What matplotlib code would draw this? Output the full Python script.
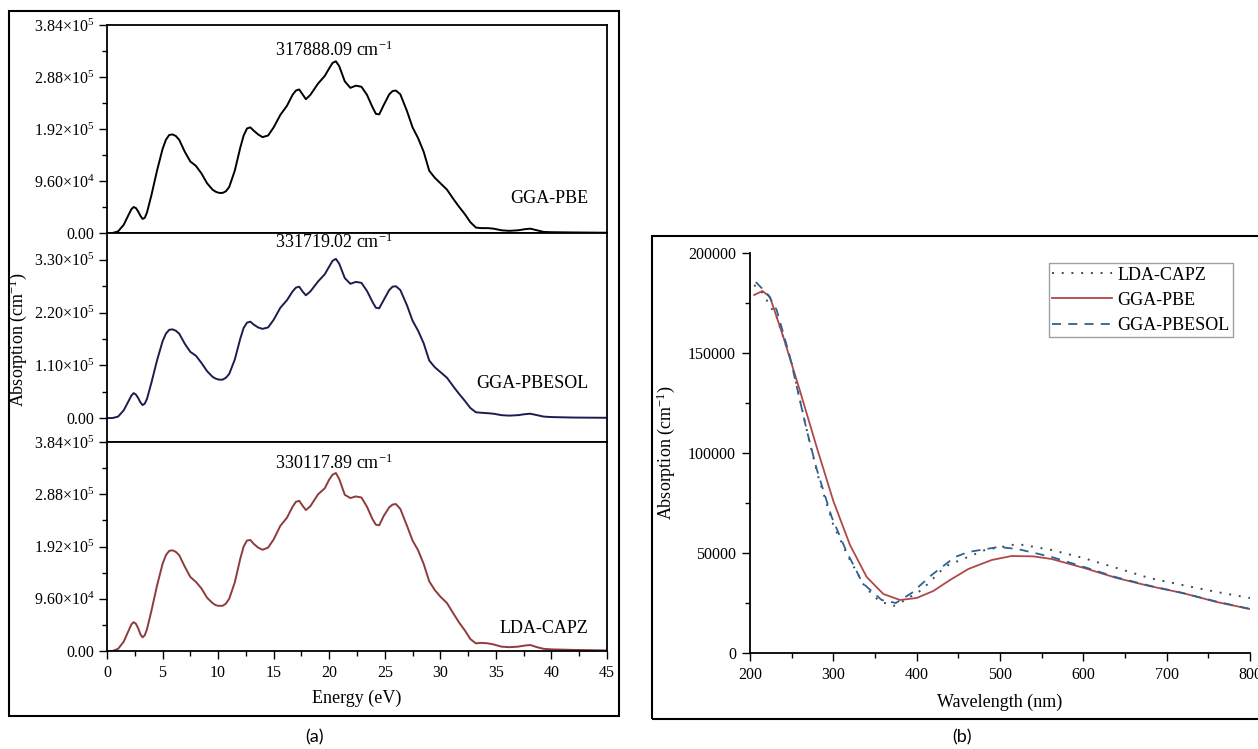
import matplotlib
matplotlib.use("Agg")
import matplotlib.pyplot as plt
from matplotlib.patches import Rectangle
from matplotlib.ticker import FixedLocator

plt.rcParams['font.family'] = ['Liberation Serif', 'DejaVu Serif']
plt.rcParams['mathtext.fontset'] = 'custom'
plt.rcParams['mathtext.rm'] = 'Liberation Serif'
plt.rcParams['mathtext.it'] = 'Liberation Serif:italic'
plt.rcParams['mathtext.bf'] = 'Liberation Serif:bold'

# ---- panel (a): absorption vs energy (values in 1e5 cm^-1) ----
energy = [0, 0.5, 1.0, 1.5, 2.0, 2.2, 2.4, 2.6, 2.8, 3.0,
          3.2, 3.4, 3.6, 4.0, 4.5, 5.0, 5.3, 5.6, 5.9, 6.2,
          6.5, 7.0, 7.5, 8.0, 8.5, 9.0, 9.5, 9.8, 10.1, 10.4,
          10.7, 11.0, 11.5, 12.0, 12.3, 12.6, 12.9, 13.2, 13.6, 14.0,
          14.5, 15.0, 15.6, 16.2, 16.7, 17.0, 17.3, 17.6, 17.9, 18.3,
          19.0, 19.6, 20.0, 20.3, 20.6, 20.9, 21.4, 21.9, 22.4, 22.9,
          23.4, 23.9, 24.2, 24.5, 24.9, 25.4, 25.7, 26.0, 26.4, 27.0,
          27.5, 28.0, 28.5, 29.0, 29.5, 30.0, 30.6, 31.2, 31.7, 32.2,
          32.7, 33.2, 33.7, 34.3, 34.8, 35.5, 36.2, 37.0, 37.6, 38.1,
          38.7, 39.3, 40.0, 42.0, 45.0]

gga_pbe = [0, 0.0, 0.03, 0.15, 0.36, 0.44, 0.48, 0.46, 0.40, 0.32,
           0.26, 0.28, 0.38, 0.70, 1.15, 1.55, 1.72, 1.81, 1.82, 1.79,
           1.72, 1.50, 1.32, 1.24, 1.10, 0.92, 0.80, 0.76, 0.74, 0.74,
           0.77, 0.85, 1.15, 1.58, 1.80, 1.93, 1.95, 1.89, 1.82, 1.77,
           1.80, 1.95, 2.18, 2.35, 2.55, 2.63, 2.65, 2.56, 2.47, 2.55,
           2.76, 2.90, 3.04, 3.14, 3.17, 3.08, 2.80, 2.68, 2.72, 2.70,
           2.55, 2.32, 2.20, 2.19, 2.36, 2.56, 2.62, 2.63, 2.56, 2.25,
           1.95, 1.75, 1.50, 1.15, 1.02, 0.92, 0.80, 0.62, 0.48, 0.35,
           0.20, 0.10, 0.09, 0.09, 0.08, 0.05, 0.04, 0.05, 0.07, 0.08,
           0.05, 0.02, 0.015, 0.01, 0.005]

gga_pbesol = [0, 0.0, 0.03, 0.16, 0.38, 0.47, 0.52, 0.49, 0.42, 0.33,
              0.27, 0.30, 0.40, 0.74, 1.20, 1.60, 1.76, 1.84, 1.85, 1.82,
              1.76, 1.55, 1.38, 1.30, 1.15, 0.98, 0.86, 0.82, 0.80, 0.80,
              0.84, 0.92, 1.22, 1.66, 1.88, 1.99, 2.01, 1.95, 1.89, 1.86,
              1.89, 2.05, 2.30, 2.46, 2.64, 2.72, 2.74, 2.64, 2.56, 2.64,
              2.85, 3.00, 3.16, 3.28, 3.32, 3.22, 2.92, 2.80, 2.84, 2.82,
              2.65, 2.42, 2.30, 2.29, 2.46, 2.67, 2.74, 2.75, 2.67, 2.35,
              2.03, 1.82, 1.56, 1.20, 1.06, 0.96, 0.84, 0.65, 0.50, 0.36,
              0.21, 0.12, 0.11, 0.10, 0.09, 0.06, 0.05, 0.06, 0.08, 0.09,
              0.06, 0.03, 0.02, 0.01, 0.005]

lda_capz = [0, 0.0, 0.04, 0.17, 0.40, 0.49, 0.53, 0.50, 0.42, 0.31,
            0.25, 0.29, 0.40, 0.74, 1.20, 1.60, 1.76, 1.84, 1.85, 1.82,
            1.76, 1.55, 1.36, 1.27, 1.15, 0.98, 0.88, 0.84, 0.83, 0.83,
            0.87, 0.96, 1.26, 1.70, 1.92, 2.03, 2.04, 1.97, 1.90, 1.86,
            1.90, 2.05, 2.30, 2.45, 2.65, 2.74, 2.76, 2.67, 2.59, 2.66,
            2.88, 2.99, 3.15, 3.24, 3.27, 3.16, 2.87, 2.81, 2.84, 2.82,
            2.65, 2.42, 2.32, 2.31, 2.48, 2.64, 2.69, 2.70, 2.61, 2.30,
            2.03, 1.85, 1.60, 1.28, 1.12, 1.00, 0.88, 0.68, 0.52, 0.38,
            0.22, 0.14, 0.15, 0.14, 0.12, 0.08, 0.07, 0.08, 0.10, 0.11,
            0.07, 0.04, 0.03, 0.02, 0.01]

peak_labels = ['317888.09', '331719.02', '330117.89']
method_names = ['GGA-PBE', 'GGA-PBESOL', 'LDA-CAPZ']

ticks_a = [0, 0.96, 1.92, 2.88, 3.84]
ticklabels_a = ['0.00', '9.60×10$^{4}$', '1.92×10$^{5}$', '2.88×10$^{5}$', '3.84×10$^{5}$']
ticks_b = [0, 1.1, 2.2, 3.3]
ticklabels_b = ['0.00', '1.10×10$^{5}$', '2.20×10$^{5}$', '3.30×10$^{5}$']
energy_ticks = [0, 5, 10, 15, 20, 25, 30, 35, 40, 45]

# ---- panel (b): absorption vs wavelength ----
pbe_wl = [205, 215, 224, 240, 260, 280, 300, 320, 340, 360, 380, 400, 420,
          440, 462, 490, 514, 540, 562, 601, 640, 679, 719, 760, 800]
pbe_val = [179000, 181000, 178000, 158000, 131000, 103000, 76000, 54000, 38000,
           29500, 26500, 27500, 31000, 36500, 42000, 46500, 48500, 48300, 47000,
           42500, 37500, 33500, 30000, 25500, 22000]

sol_wl = [207, 222, 232, 248, 268, 280, 298, 315, 335, 358, 375, 394, 418, 446,
          462, 498, 521, 562, 601, 640, 679, 719, 760, 800]
sol_val = [185500, 179000, 171500, 148000, 111500, 92000, 68000, 51500, 35000,
           26500, 25000, 30000, 39000, 48000, 50500, 53000, 52000, 48000, 43000,
           37800, 33700, 30000, 25700, 22000]

lda_wl = [205, 215, 232, 250, 270, 282, 300, 318, 338, 355, 372, 382, 406, 430,
          438, 482, 521, 562, 600, 640, 679, 719, 760, 800]
lda_val = [184000, 180000, 168000, 145000, 108000, 88000, 64000, 48000, 33000,
           26000, 23500, 25500, 31500, 41500, 44000, 51500, 54500, 51500, 47500,
           42500, 37500, 34000, 30500, 27500]

W, H = 1258, 749
fig = plt.figure(figsize=(W / 100, H / 100), dpi=100)


def box(x0, y0, x1, y1):
    # pixel box -> figure fraction [left, bottom, width, height]
    return [x0 / W, 1 - y1 / H, (x1 - x0) / W, (y1 - y0) / H]


tick_kw = dict(direction='out', width=1.0, labelsize=11.5)

# left stacked panels
rows = [
    dict(rect=box(107, 25, 607, 233), y=gga_pbe, color='black', ylim=(0, 3.84),
         ticks=ticks_a, labels=ticklabels_a, minor=[0.48, 1.44, 2.40, 3.36],
         peak_y=3.38, name_y=0.63),
    dict(rect=box(107, 233, 607, 442), y=gga_pbesol, color='#1b1d4d', ylim=(-0.50, 3.86),
         ticks=ticks_b, labels=ticklabels_b, minor=[0.55, 1.65, 2.75],
         peak_y=3.66, name_y=0.73),
    dict(rect=box(107, 442, 607, 651), y=lda_capz, color='#8e3b3b', ylim=(0, 3.84),
         ticks=ticks_a, labels=ticklabels_a, minor=[0.48, 1.44, 2.40, 3.36],
         peak_y=3.45, name_y=0.42),
]

for i, r in enumerate(rows):
    ax = fig.add_axes(r['rect'])
    ax.plot(energy, r['y'], color=r['color'], lw=1.4, solid_joinstyle='round')
    ax.set_xlim(0, 45)
    ax.set_ylim(*r['ylim'])
    ax.yaxis.set_major_locator(FixedLocator(r['ticks']))
    ax.yaxis.set_minor_locator(FixedLocator(r['minor']))
    ax.set_yticklabels(r['labels'])
    ax.tick_params(axis='y', which='major', length=6, pad=3, **tick_kw)
    ax.tick_params(axis='y', which='minor', length=3.5, width=1.0, direction='out')
    for s in ax.spines.values():
        s.set_linewidth(1.3)
    ax.text(20.4, r['peak_y'], peak_labels[i] + ' cm$^{-1}$', ha='center', va='center',
            fontsize=13)
    ax.text(43.3, r['name_y'], method_names[i], ha='right', va='center', fontsize=13)
    if i < 2:
        ax.tick_params(axis='x', which='both', bottom=False, labelbottom=False)
    else:
        ax.set_xticks(energy_ticks)
        ax.xaxis.set_minor_locator(FixedLocator([2.5 + 5 * k for k in range(9)]))
        ax.tick_params(axis='x', which='major', length=6, pad=4, **tick_kw)
        ax.tick_params(axis='x', which='minor', length=3.5, width=1.0, direction='out')
        ax.set_xlabel('Energy (eV)', fontsize=13, labelpad=6)

fig.text(18 / W, 1 - 340 / H, 'Absorption (cm$^{-1}$)', rotation=90, ha='center',
         va='center', fontsize=13)

# right panel
axb = fig.add_axes(box(750, 253, 1250, 653))
axb.plot(lda_wl, lda_val, color='#3e4a58', lw=1.4, linestyle=(0, (1, 4)), label='LDA-CAPZ')
axb.plot(pbe_wl, pbe_val, color='#b04848', lw=1.3, label='GGA-PBE',
         solid_joinstyle='round')
axb.plot(sol_wl, sol_val, color='#2f6291', lw=1.3, linestyle=(0, (5, 4)), label='GGA-PBESOL')
axb.set_xlim(200, 800)
axb.set_ylim(0, 200000)
axb.set_xticks([200, 300, 400, 500, 600, 700, 800])
axb.set_yticks([0, 50000, 100000, 150000, 200000])
axb.set_yticklabels(['0', '50000', '100000', '150000', '200000'])
axb.xaxis.set_minor_locator(FixedLocator([250, 350, 450, 550, 650, 750]))
axb.yaxis.set_minor_locator(FixedLocator([25000, 75000, 125000, 175000]))
axb.tick_params(which='major', length=6, pad=4, **tick_kw)
axb.tick_params(which='minor', length=3.5, width=1.0, direction='out')
axb.spines['top'].set_visible(False)
axb.spines['right'].set_visible(False)
for s in ('left', 'bottom'):
    axb.spines[s].set_linewidth(1.3)
axb.set_xlabel('Wavelength (nm)', fontsize=13, labelpad=8)
axb.set_ylabel('Absorption (cm$^{-1}$)', fontsize=13, labelpad=8)
leg = axb.legend(loc='upper right', bbox_to_anchor=(0.966, 0.975), borderaxespad=0,
                 fontsize=13, frameon=True, fancybox=False, borderpad=0.2,
                 labelspacing=0.45, handlelength=3.3, handletextpad=0.3)
leg.get_frame().set_edgecolor('#888888')
leg.get_frame().set_linewidth(1.0)

# outer frames and panel letters
fig.patches.append(Rectangle((9 / W, 1 - 716 / H), 610 / W, 705 / H, fill=False,
                             lw=1.5, edgecolor='black', transform=fig.transFigure))
fig.patches.append(Rectangle((652 / W, 1 - 719 / H), 620 / W, 483 / H, fill=False,
                             lw=1.5, edgecolor='black', transform=fig.transFigure))
fig.text(314 / W, 1 - 737 / H, '(a)', ha='center', va='center', fontsize=13,
         family=['Lato', 'DejaVu Sans'])
fig.text(962 / W, 1 - 737 / H, '(b)', ha='center', va='center', fontsize=13,
         family=['Lato', 'DejaVu Sans'])

fig.savefig('out.png', dpi=100)
